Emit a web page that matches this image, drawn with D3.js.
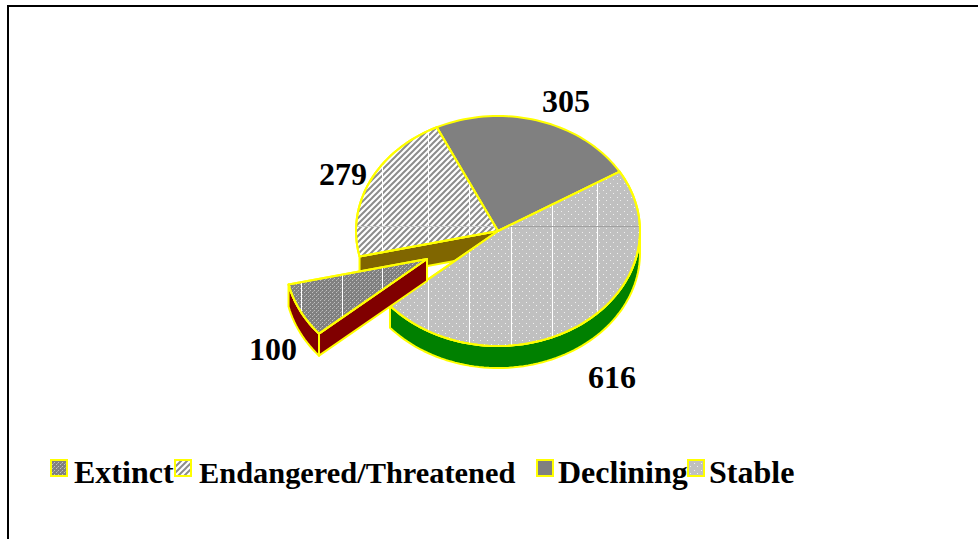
<!DOCTYPE html>
<html>
<head>
<meta charset="utf-8">
<script src="https://cdn.jsdelivr.net/npm/d3@7"></script>
<style>
html, body { margin: 0; padding: 0; background: #fff; }
svg { display: block; }
text { font-family: "Liberation Serif", serif; font-weight: bold; fill: #000; }
</style>
</head>
<body>
<svg id="chart" width="978" height="539"></svg>
<script>
//chart values
var categories = ["Extinct", "Endangered/Threatened", "Declining", "Stable"];
var values = [100, 279, 305, 616];
var wallColors = ["#800000", "#806600", "#808080", "#008000"];
var gridX = [301, 342, 382, 428, 469, 511, 552, 597];

var svg = d3.select("#chart");
var W = 978, H = 539;

//pie geometry
var cx = 498, cy = 231, rx = 142, ry = 115, depth = 22;
var yellow = "#ffff00";
var deg = Math.PI / 180;
var explode = {x: -71, y: 28};

var pie = d3.pie().sort(null).value(function(d) { return d; })
	.startAngle(-130.5 * deg).endAngle(229.5 * deg);
var slices = pie(values);

//fill patterns
var defs = svg.append("defs");

var p0 = defs.append("pattern").attr("id", "p0").attr("patternUnits", "userSpaceOnUse")
	.attr("width", 4).attr("height", 4);
p0.append("rect").attr("width", 4).attr("height", 4).attr("fill", "#808080");
p0.append("rect").attr("x", 0).attr("y", 0).attr("width", 1).attr("height", 1).attr("fill", "#c0c0c0");
p0.append("rect").attr("x", 2).attr("y", 2).attr("width", 1).attr("height", 1).attr("fill", "#c0c0c0");
p0.append("rect").attr("x", 1).attr("y", 3).attr("width", 1).attr("height", 1).attr("fill", "#a0a0a0");

var p1 = defs.append("pattern").attr("id", "p1").attr("patternUnits", "userSpaceOnUse")
	.attr("width", 6).attr("height", 6);
p1.append("rect").attr("width", 6).attr("height", 6).attr("fill", "#fff");
p1.append("path").attr("d", "M-1.5,1.5L1.5,-1.5M0,6L6,0M4.5,7.5L7.5,4.5")
	.attr("stroke", "#8c8c8c").attr("stroke-width", 2);

var p3 = defs.append("pattern").attr("id", "p3").attr("patternUnits", "userSpaceOnUse")
	.attr("width", 7).attr("height", 7);
p3.append("rect").attr("width", 7).attr("height", 7).attr("fill", "#c0c0c0");
p3.selectAll("rect.dot").data([[1, 1], [4, 4]]).enter().append("rect")
	.attr("class", "dot")
	.attr("x", function(d) { return d[0]; }).attr("y", function(d) { return d[1]; })
	.attr("width", 1).attr("height", 1).attr("fill", "#f0f0f0");

var faces = ["url(#p0)", "url(#p1)", "#808080", "url(#p3)"];

//point on the ellipse for an angle measured clockwise from the top
function px(a) { return cx + rx * Math.sin(a); }
function py(a) { return cy - ry * Math.cos(a); }

var line = d3.line();

function arcPoints(a0, a1, dx, dy) {
	var n = Math.max(2, Math.ceil((a1 - a0) / (2 * deg)));
	return d3.range(n + 1).map(function(i) {
		var a = a0 + (a1 - a0) * i / n;
		return [px(a) + dx, py(a) + dy];
	});
}

function facePath(s, dx, dy) {
	return line([[cx + dx, cy + dy]].concat(arcPoints(s.startAngle, s.endAngle, dx, dy))) + "Z";
}

//band under the rim between two angles
function rimPath(a0, a1, dx, dy) {
	var top = arcPoints(a0, a1, dx, dy);
	var bottom = top.map(function(p) { return [p[0], p[1] + depth]; }).reverse();
	return line(top.concat(bottom)) + "Z";
}

//flat wall going straight down from a cut edge
function cutPath(a, dx, dy) {
	var ax = px(a) + dx, ay = py(a) + dy;
	return line([[cx + dx, cy + dy], [ax, ay], [ax, ay + depth], [cx + dx, cy + dy + depth]]) + "Z";
}

function draw(d, fill, sw) {
	return svg.append("path").attr("d", d).attr("fill", fill)
		.attr("stroke", yellow).attr("stroke-width", sw === undefined ? 2 : sw)
		.attr("stroke-linejoin", "round");
}

//frame, only top and left are in the window
svg.append("path").attr("d", line([[8, H], [8, 6], [W, 6]]))
	.attr("fill", "none").attr("stroke", "#000").attr("stroke-width", 2);

//walls behind the faces
draw(cutPath(slices[1].startAngle, 0, 0), wallColors[1]);

//back faces
draw(facePath(slices[2], 0, 0), faces[2]);
draw(facePath(slices[1], 0, 0), faces[1]);

//stable slice with its rim
var rimEnd = slices[3].endAngle;
draw(rimPath(90 * deg, rimEnd, 0, 0), wallColors[3]);
draw(facePath(slices[3], 0, 0), faces[3]);

//gridlines show through the patterned faces
function clipFor(id, s, dx, dy) {
	defs.append("clipPath").attr("id", id).append("path").attr("d", facePath(s, dx, dy));
}
clipFor("c0", slices[0], explode.x, explode.y);
clipFor("c1", slices[1], 0, 0);
clipFor("c3", slices[3], 0, 0);

function gridInto(clip, xs) {
	var g = svg.append("g").attr("clip-path", "url(#" + clip + ")");
	g.selectAll("line.v").data(xs).enter().append("line").attr("class", "v")
		.attr("x1", function(d) { return d + 0.5; }).attr("x2", function(d) { return d + 0.5; })
		.attr("y1", 100).attr("y2", 370)
		.attr("stroke", "#fff").attr("stroke-width", 1);
	return g;
}

function hLine(g, color) {
	g.append("line").attr("x1", 340).attr("x2", 650).attr("y1", 226.5).attr("y2", 226.5)
		.attr("stroke", color).attr("stroke-width", 1);
}

hLine(gridInto("c1", gridX.filter(function(x) { return x > 360 && x < 470; })), "#c8c8c8");
hLine(gridInto("c3", gridX.filter(function(x) { return x > 400; })), "#a0a0a0");

//outlines again on top of the grid
draw(facePath(slices[3], 0, 0), "none");
draw(facePath(slices[1], 0, 0), "none");

//exploded slice, the front cut is its start angle
var ex = explode.x, ey = explode.y;
draw(rimPath(slices[0].startAngle, slices[0].endAngle, ex, ey), wallColors[0]);
draw(cutPath(slices[0].startAngle, ex, ey), wallColors[0]);
draw(facePath(slices[0], ex, ey), faces[0]);
gridInto("c0", gridX.filter(function(x) { return x < 400; }));
draw(facePath(slices[0], ex, ey), "none");

//value labels
var labelPos = [[249, 360], [319, 185], [542, 112], [588, 388]];
svg.selectAll("text.value").data(values).enter().append("text")
	.attr("class", "value")
	.attr("x", function(d, i) { return labelPos[i][0]; })
	.attr("y", function(d, i) { return labelPos[i][1]; })
	.style("font-size", "32px")
	.text(function(d) { return d; });

//legend
var legendSwatch = [50, 174, 536, 687];
var legendText = [74, 199, 558, 709];
var legendSize = [32, 30.4, 32, 32];
var legendY = 483;

svg.selectAll("rect.swatch").data(categories).enter().append("rect")
	.attr("class", "swatch")
	.attr("x", function(d, i) { return legendSwatch[i] + 1; })
	.attr("y", 460)
	.attr("width", 16).attr("height", 16)
	.attr("fill", function(d, i) { return faces[i]; })
	.attr("stroke", yellow).attr("stroke-width", 2);

svg.selectAll("text.legend").data(categories).enter().append("text")
	.attr("class", "legend")
	.attr("x", function(d, i) { return legendText[i]; })
	.attr("y", legendY)
	.style("font-size", function(d, i) { return legendSize[i] + "px"; })
	.text(function(d) { return d; });
</script>
</body>
</html>
